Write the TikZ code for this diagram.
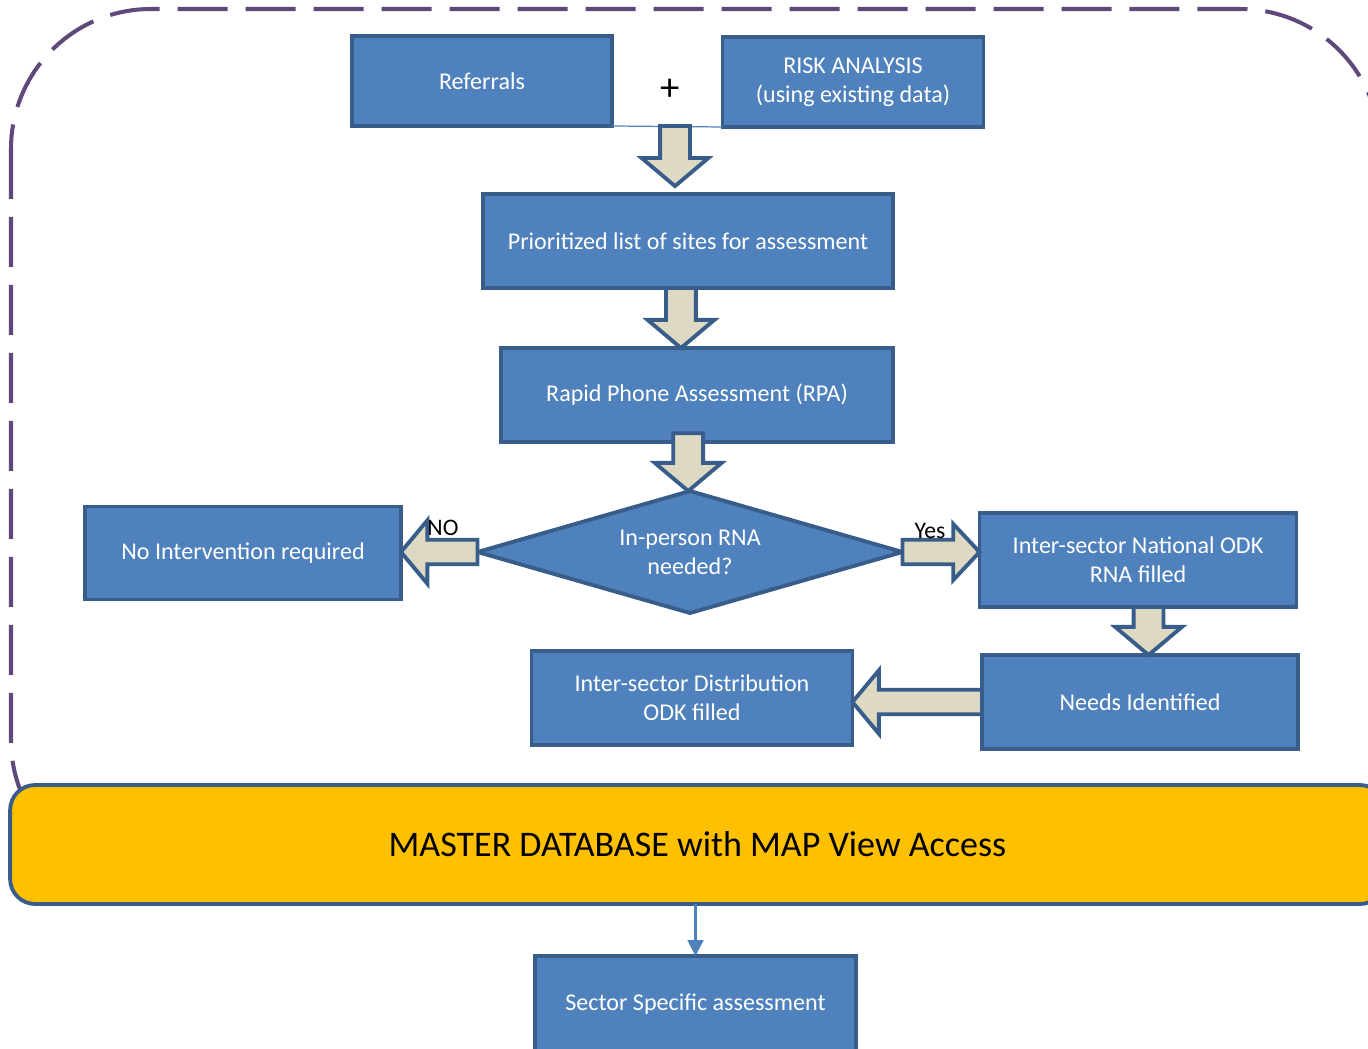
\documentclass[tikz,border=0pt]{standalone}
\usepackage{fontspec}
\setmainfont{Carlito}
\usetikzlibrary{shapes.geometric,calc,arrows.meta}
\definecolor{boxblue}{HTML}{4F81BD}
\definecolor{boxline}{HTML}{385D8A}
\definecolor{arrfill}{HTML}{DDD9C3}
\definecolor{framepurple}{HTML}{5F497A}
\definecolor{gold}{HTML}{FFC000}
\begin{document}
\begin{tikzpicture}[x=0.02cm,y=-0.02cm,
	box/.style={draw=boxline,fill=boxblue,line width=2.2pt,text=white,align=center,outer sep=0pt,
		font=\fontsize{13.7}{16.4}\selectfont},
	blk/.style={draw=boxline,fill=arrfill,line width=2.2pt},
	down/.style={blk,to path={let \p1=(\tikztostart),\p2=(\tikztotarget) in
		(\x1-8.5pt,\y1)--(\x1-8.5pt,\y2+16pt)--(\x1-19pt,\y2+16pt)--(\x1,\y2)
		--(\x1+19pt,\y2+16pt)--(\x1+8.5pt,\y2+16pt)--(\x1+8.5pt,\y1)--cycle}},
	right/.style={blk,to path={let \p1=(\tikztostart),\p2=(\tikztotarget) in
		(\x1,\y1-7pt)--(\x2-15pt,\y1-7pt)--(\x2-15pt,\y1-16pt)--(\x2,\y1)
		--(\x2-15pt,\y1+16pt)--(\x2-15pt,\y1+7pt)--(\x1,\y1+7pt)--cycle}},
	left/.style={blk,to path={let \p1=(\tikztostart),\p2=(\tikztotarget) in
		(\x1,\y1-7pt)--(\x2+15pt,\y1-7pt)--(\x2+15pt,\y1-18pt)--(\x2,\y1)
		--(\x2+15pt,\y1+18pt)--(\x2+15pt,\y1+7pt)--(\x1,\y1+7pt)--cycle}},
	lbl/.style={font=\fontsize{13.5}{16}\selectfont,inner sep=1pt}]
	\useasboundingbox (0,0) rectangle (1368,1048);
	% dashed frame round the workflow
	\draw[framepurple,line width=2.3pt,dash pattern=on 1cm off 0.36cm,rounded corners=2.8cm]
	(11,9) rectangle (1380,880);
	
	\node[box,minimum width=5.2cm,minimum height=1.8cm] (ref) at (482,81) {Referrals};
	\node[box,minimum width=5.22cm,minimum height=1.8cm] (risk) at (853,82) {RISK ANALYSIS\\(using existing data)};
	\node[font=\fontsize{22}{22}\selectfont] (plus) at (670,90) {+};
	\draw[boxblue,line width=0.7pt] (ref.south east) -- (risk.south west);
	\coordinate (join) at (675,126);
	
	\node[box,minimum width=8.2cm,minimum height=1.88cm] (pri) at (688,241) {Prioritized list of sites for assessment};
	\node[box,minimum width=7.84cm,minimum height=1.88cm] (rpa) at (697,395) {Rapid Phone Assessment (RPA)};
	\node[box,diamond,aspect=3.5,inner sep=0pt,minimum width=8.5cm,minimum height=2.44cm] (dec) at (690,552) {In-person RNA\\needed?};
	\node[box,minimum width=6.32cm,minimum height=1.86cm] (noint) at (243,553) {No Intervention required};
	\node[box,minimum width=6.34cm,minimum height=1.88cm] (nat) at (1138,560) {Inter-sector National ODK\\RNA filled};
	\node[box,minimum width=6.32cm,minimum height=1.88cm] (needs) at (1140,702) {Needs Identified};
	\node[box,minimum width=6.42cm,minimum height=1.88cm] (dist) at (692,698) {Inter-sector Distribution\\ODK filled};
	
	\node[draw=boxline,fill=gold,line width=2.2pt,rounded corners=0.5cm,outer sep=0pt,
	minimum width=27.5cm,minimum height=2.38cm,font=\fontsize{20.5}{24}\selectfont] (master) at (697.5,844.5)
	{MASTER DATABASE with MAP View Access};
	\node[box,minimum width=6.42cm,minimum height=1.92cm] (sector) at (695.5,1004) {Sector Specific assessment};
	
	% block arrows
	\draw[down] (join) to ([yshift=4.5pt]pri.north);
	\draw[down] ([xshift=-4pt]pri.south) to (rpa.north);
	\draw[down] ([xshift=-5pt,yshift=5pt]rpa.south) to (dec.north);
	\draw[left] (dec.west) to (noint.east);
	\draw[right] (dec.east) to (nat.west);
	\draw[down] ([xshift=6pt]nat.south) to (needs.north);
	\draw[left] (needs.west) to (dist.east);
	\draw[boxblue,line width=1.2pt,-{Triangle[length=9pt,width=9pt]}] (sector.north |- master.south) -- (sector.north);
	
	\node[lbl] (no) at (443,528) {NO};
	\node[lbl] (yes) at (930,531) {Yes};
\end{tikzpicture}
\end{document}
